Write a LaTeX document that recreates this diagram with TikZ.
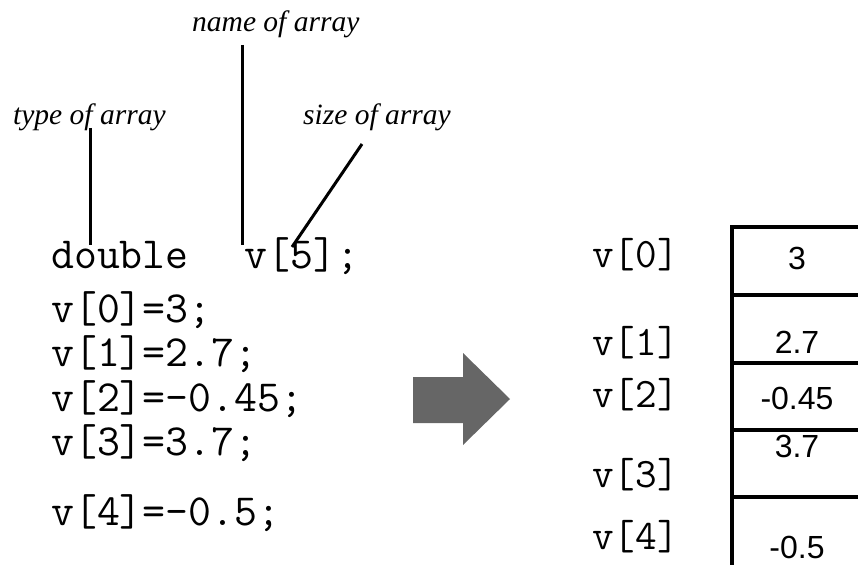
\documentclass[tikz,border=0pt]{standalone}
\usepackage{fontspec}
\setmainfont{Liberation Serif}
\newfontfamily\valuefont{Liberation Sans}
\definecolor{arrowgray}{HTML}{666666}
\tikzset{
  note/.style={anchor=base west, inner sep=0pt, font=\fontsize{29.5}{31}\selectfont\itshape},
  codeline/.style={anchor=base west, inner sep=0pt,
    font=\fontsize{44.5}{47}\selectfont\ttfamily},
  idx/.style={anchor=base west, inner sep=0pt, font=\fontsize{42}{44}\selectfont\ttfamily},
  val/.style={anchor=base, inner sep=0pt, font=\fontsize{32}{34}\selectfont\valuefont},
  pointer/.style={line width=3pt},
  grid/.style={line width=3.2pt},
}
\begin{document}
\begin{tikzpicture}[x=1pt,y=-1pt]
\useasboundingbox (0,0) rectangle (858,564);

% annotations
\node[note] (nameL) at (192,32) {name of array};
\node[note] (typeL) at (13,125) {type of array};
\node[note] (sizeL) at (303,125) {size of array};

% source code
\node[codeline] (decl) at (51,268) {double~~\kern10pt v[5];};
\node[codeline] (c0) at (51,322) {v[0]=3;};
\node[codeline] (c1) at (51,366) {v[1]=2.7;};
\node[codeline] (c2) at (51,411) {v[2]=-0.45;};
\node[codeline] (c3) at (51,455) {v[3]=3.7;};
\node[codeline] (c4) at (51,525) {v[4]=-0.5;};

% pointers from annotations to the declaration
\coordinate (typeTop) at (90,128);
\coordinate (typeEnd) at (90,245);
\coordinate (nameTop) at (242,45);
\coordinate (nameEnd) at (242,245);
\coordinate (sizeTop) at (362,144);
\coordinate (sizeEnd) at (292,247);
\draw[pointer] (typeTop) -- (typeEnd);
\draw[pointer] (nameTop) -- (nameEnd);
\draw[pointer] (sizeTop) -- (sizeEnd);

% block arrow
\fill[arrowgray] (413,377) -- (463,377) -- (463,353) -- (510,399)
  -- (463,445) -- (463,423) -- (413,423) -- cycle;

% memory layout
\node[idx] (i0) at (592,267) {v[0]};
\node[idx] (i1) at (592,355) {v[1]};
\node[idx] (i2) at (592,407) {v[2]};
\node[idx] (i3) at (592,487) {v[3]};
\node[idx] (i4) at (592,549) {v[4]};

\node[val] (m0) at (797,269) {3};
\node[val] (m1) at (797,353) {2.7};
\node[val] (m2) at (797,409) {-0.45};
\node[val] (m3) at (797,457) {3.7};
\node[val] (m4) at (797,558) {-0.5};

\draw[grid] (870,227) -- (732,227) -- (732,575);
\foreach \yy in {295,363,430,497}
  \draw[grid] (732,\yy) -- (870,\yy);
\end{tikzpicture}
\end{document}
